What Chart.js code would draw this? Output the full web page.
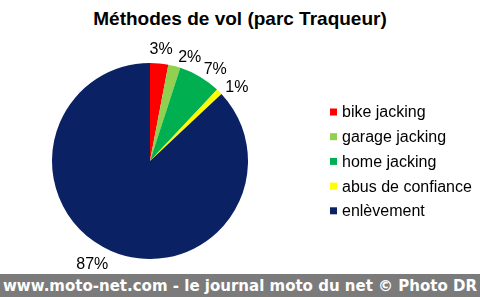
<!DOCTYPE html>
<html>
<head>
<meta charset="utf-8">
<script src="https://cdn.jsdelivr.net/npm/chart.js@4/dist/chart.umd.min.js"></script>
<style>
    body { margin: 0; background: #fff; }
    .wrap { position: relative; width: 480px; height: 297px; overflow: hidden; background: #fff; }
    .title {
        position: absolute; left: 0; top: 8px; width: 480px; text-align: center;
        font: bold 19px "Liberation Sans", Arial, sans-serif; color: #000;
    }
    #pieChart { position: absolute; left: 0; top: 0; }
    .footer {
        position: absolute; left: 0; top: 274px; width: 480px; height: 23px;
        background: #7b7b7b; color: #fff; white-space: nowrap;
        font: bold 16px "DejaVu Sans", Verdana, sans-serif; line-height: 23px;
    }
    .footer span { display: inline-block; transform-origin: 0 50%; margin-left: 3px; }
</style>
</head>
<body>
<div class="wrap">
    <div class="title">Méthodes de vol (parc Traqueur)</div>
    <canvas id="pieChart" width="480" height="274"></canvas>
    <div class="footer"><span id="footerText">www.moto-net.com - le journal moto du net © Photo DR</span></div>
</div>
<script>
// --- DATA ---
const categories = ['bike jacking', 'garage jacking', 'home jacking', 'abus de confiance', 'enlèvement'];
const shares = [3, 2, 7, 1, 87];
const pctLabels = ['3%', '2%', '7%', '1%', '87%'];
const sliceColors = ['#ff0000', '#92d050', '#00b050', '#ffff00', '#0a2163'];

// stretch footer text to the band width
const ft = document.getElementById('footerText');
ft.style.transform = 'scaleX(' + (474 / ft.getBoundingClientRect().width) + ')';

// outside-end percent labels, nudged a bit like Excel does
const pctLabelPlugin = {
    id: 'pctLabels',
    afterDatasetsDraw(chart, args, opts) {
        const ctx = chart.ctx;
        const arcs = chart.getDatasetMeta(0).data;
        ctx.save();
        ctx.font = '16px "Liberation Sans", Arial, sans-serif';
        ctx.fillStyle = '#000';
        ctx.textAlign = 'center';
        ctx.textBaseline = 'middle';
        arcs.forEach((arc, i) => {
            const p = arc.getProps(['x', 'y', 'startAngle', 'endAngle', 'outerRadius'], true);
            const mid = (p.startAngle + p.endAngle) / 2 + opts.nudge[i] * Math.PI / 180;
            const r = p.outerRadius + opts.gap[i];
            ctx.fillText(pctLabels[i], p.x + Math.cos(mid) * r, p.y + Math.sin(mid) * r);
        });
        ctx.restore();
    }
};

// legend on the right
const sideLegendPlugin = {
    id: 'sideLegend',
    afterDraw(chart, args, opts) {
        const ctx = chart.ctx;
        ctx.save();
        ctx.font = '16px "Liberation Sans", Arial, sans-serif';
        ctx.textBaseline = 'middle';
        categories.forEach((name, i) => {
            const y = opts.top + i * opts.step;
            ctx.fillStyle = sliceColors[i];
            ctx.fillRect(opts.left, y - 3.5, 7, 7);
            ctx.fillStyle = '#000';
            ctx.fillText(name, opts.left + 12, y + 1);
        });
        ctx.restore();
    }
};

new Chart(document.getElementById('pieChart'), {
    type: 'pie',
    data: {
        labels: categories,
        datasets: [{
            data: shares,
            backgroundColor: sliceColors,
            borderWidth: 0
        }]
    },
    options: {
        responsive: false,
        animation: false,
        layout: { padding: { left: 52, right: 232, top: 63, bottom: 15 } },
        plugins: {
            legend: { display: false },
            tooltip: { enabled: false },
            pctLabels: { nudge: [0.3, 6.6, 5, 4.6, 5.6], gap: [14, 13, 14, 16, 21] },
            sideLegend: { left: 330, top: 112, step: 24.7 }
        }
    },
    plugins: [pctLabelPlugin, sideLegendPlugin]
});
</script>
</body>
</html>
